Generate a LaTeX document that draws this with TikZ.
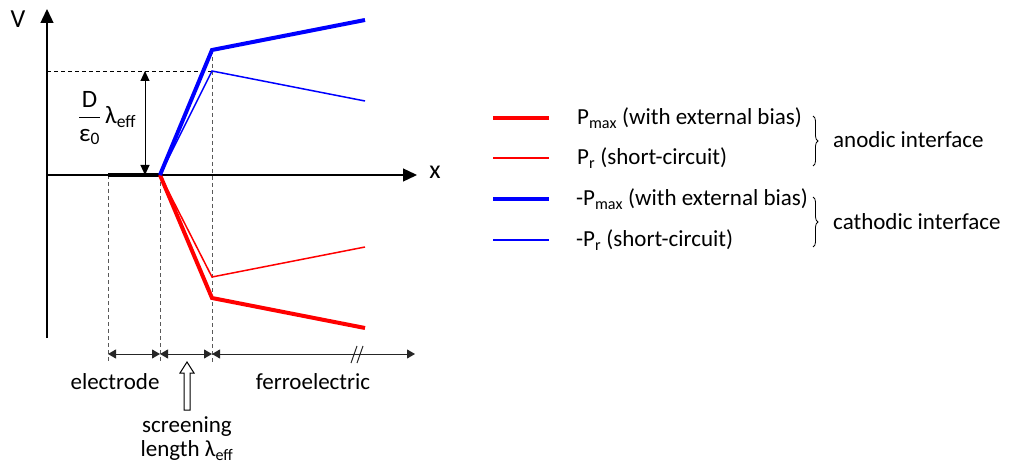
\documentclass[tikz,border=0pt]{standalone}
\usepackage{fontspec}
\setmainfont{Carlito}
\usepackage{amsmath}
\usetikzlibrary{arrows.meta,decorations.pathreplacing}

\begin{document}
\begin{tikzpicture}[x=1pt,y=-1pt,font=\fontsize{23}{24}\selectfont,
  axis/.style={line width=1.3pt,-{Triangle[length=14pt,width=13pt]}},
  guide/.style={dash pattern=on 4pt off 3pt,line width=1pt,black!65},
  dim/.style={line width=1pt,black!85,{Triangle[length=8pt,width=9pt]}-{Triangle[length=8pt,width=9pt]}},
  pmax/.style={line width=4pt},
  pr/.style={line width=1.5pt},
  lbl/.style={inner sep=0pt,anchor=west},
  brc/.style={decorate,decoration={brace,amplitude=5pt},line width=0.8pt}]
  \useasboundingbox (0,0) rectangle (1025,465);
  % axes
  \coordinate (orig) at (47,175);
  \coordinate (ytop) at (47,9);
  \coordinate (ybot) at (47,338);
  \coordinate (xend) at (417,175);
  \draw[axis] (ybot) -- (ytop);
  \draw[axis] (orig) -- (xend);
  \node[font=\fontsize{26}{28}\selectfont] (vlab) at (18,19) {V};
  \node[font=\fontsize{26}{28}\selectfont] (xlab) at (435,172) {x};
  % interfaces
  \coordinate (el) at (108,175);
  \coordinate (sc) at (160,175);
  \coordinate (fe) at (212,175);
  \coordinate (bmax) at (212,50);
  \coordinate (bmaxe) at (365,20);
  \coordinate (br) at (212,71);
  \coordinate (bre) at (365,101);
  \coordinate (rmax) at (212,298);
  \coordinate (rmaxe) at (365,328);
  \coordinate (rr) at (212,277);
  \coordinate (rre) at (365,247);
  \coordinate (dl) at (108,354);
  \coordinate (dm) at (160,354);
  \coordinate (dr) at (212,354);
  \coordinate (dend) at (415,354);
  \draw[guide] (el) -- (108,362);
  \draw[guide] (sc) -- (160,362);
  \draw[guide] (bmax) -- (212,362);
  \draw[dash pattern=on 4pt off 3pt,line width=0.9pt] (orig |- br) -- (br);
  % potential curves
  \draw[line width=3.5pt] (el) -- (sc);
  \draw[pr,red] (sc) -- (rr) -- (rre);
  \draw[pmax,red] (sc) -- (rmax) -- (rmaxe);
  \draw[pr,blue] (sc) -- (br) -- (bre);
  \draw[pmax,blue] (sc) -- (bmax) -- (bmaxe);
  % drop
  \draw[line width=1pt,{Triangle[length=10pt,width=9pt]}-{Triangle[length=10pt,width=9pt]}] (145,71) -- (145,175);
  \node[font=\fontsize{25}{26}\selectfont] (drop) at (107,118) {$\dfrac{\text{D}}{\text{ε}_{\text{0}}}\,\text{λ}_{\text{eff}}$};
  % regions
  \draw[dim] (dl) -- (dm);
  \draw[dim] (dm) -- (dr);
  \draw[dim] (dr) -- (dend);
  \draw[line width=1pt,black!85] (351,363) -- (357,346) (357,363) -- (363,346);
  \node (elec) at (115,382) {electrode};
  \node (ferro) at (313,382) {ferroelectric};
  \draw[line width=1pt,fill=white] (184,410) -- (184,373) -- (180,373) -- (187,362)
    -- (194,373) -- (190,373) -- (190,410) -- cycle;
  \node[align=center] (scr) at (187,439) {screening\\length λ$_{\text{eff}}$};
  % legend
  \draw[pmax,red] (493,118) -- (549,118);
  \draw[pr,red] (493,158) -- (549,158);
  \draw[pmax,blue] (493,199) -- (549,199);
  \draw[pr,blue] (493,240) -- (549,240);
  \node[lbl] (l1) at (577,118) {P$_{\text{max}}$ (with external bias)};
  \node[lbl] (l2) at (577,158) {P$_{\text{r}}$ (short-circuit)};
  \node[lbl] (l3) at (576,199) {-P$_{\text{max}}$ (with external bias)};
  \node[lbl] (l4) at (576,240) {-P$_{\text{r}}$ (short-circuit)};
  \draw[brc] (813,116) -- (813,166);
  \draw[brc] (813,197) -- (813,247);
  \node[lbl] (ano) at (833,140) {anodic interface};
  \node[lbl] (cat) at (833,222) {cathodic interface};
\end{tikzpicture}
\end{document}
